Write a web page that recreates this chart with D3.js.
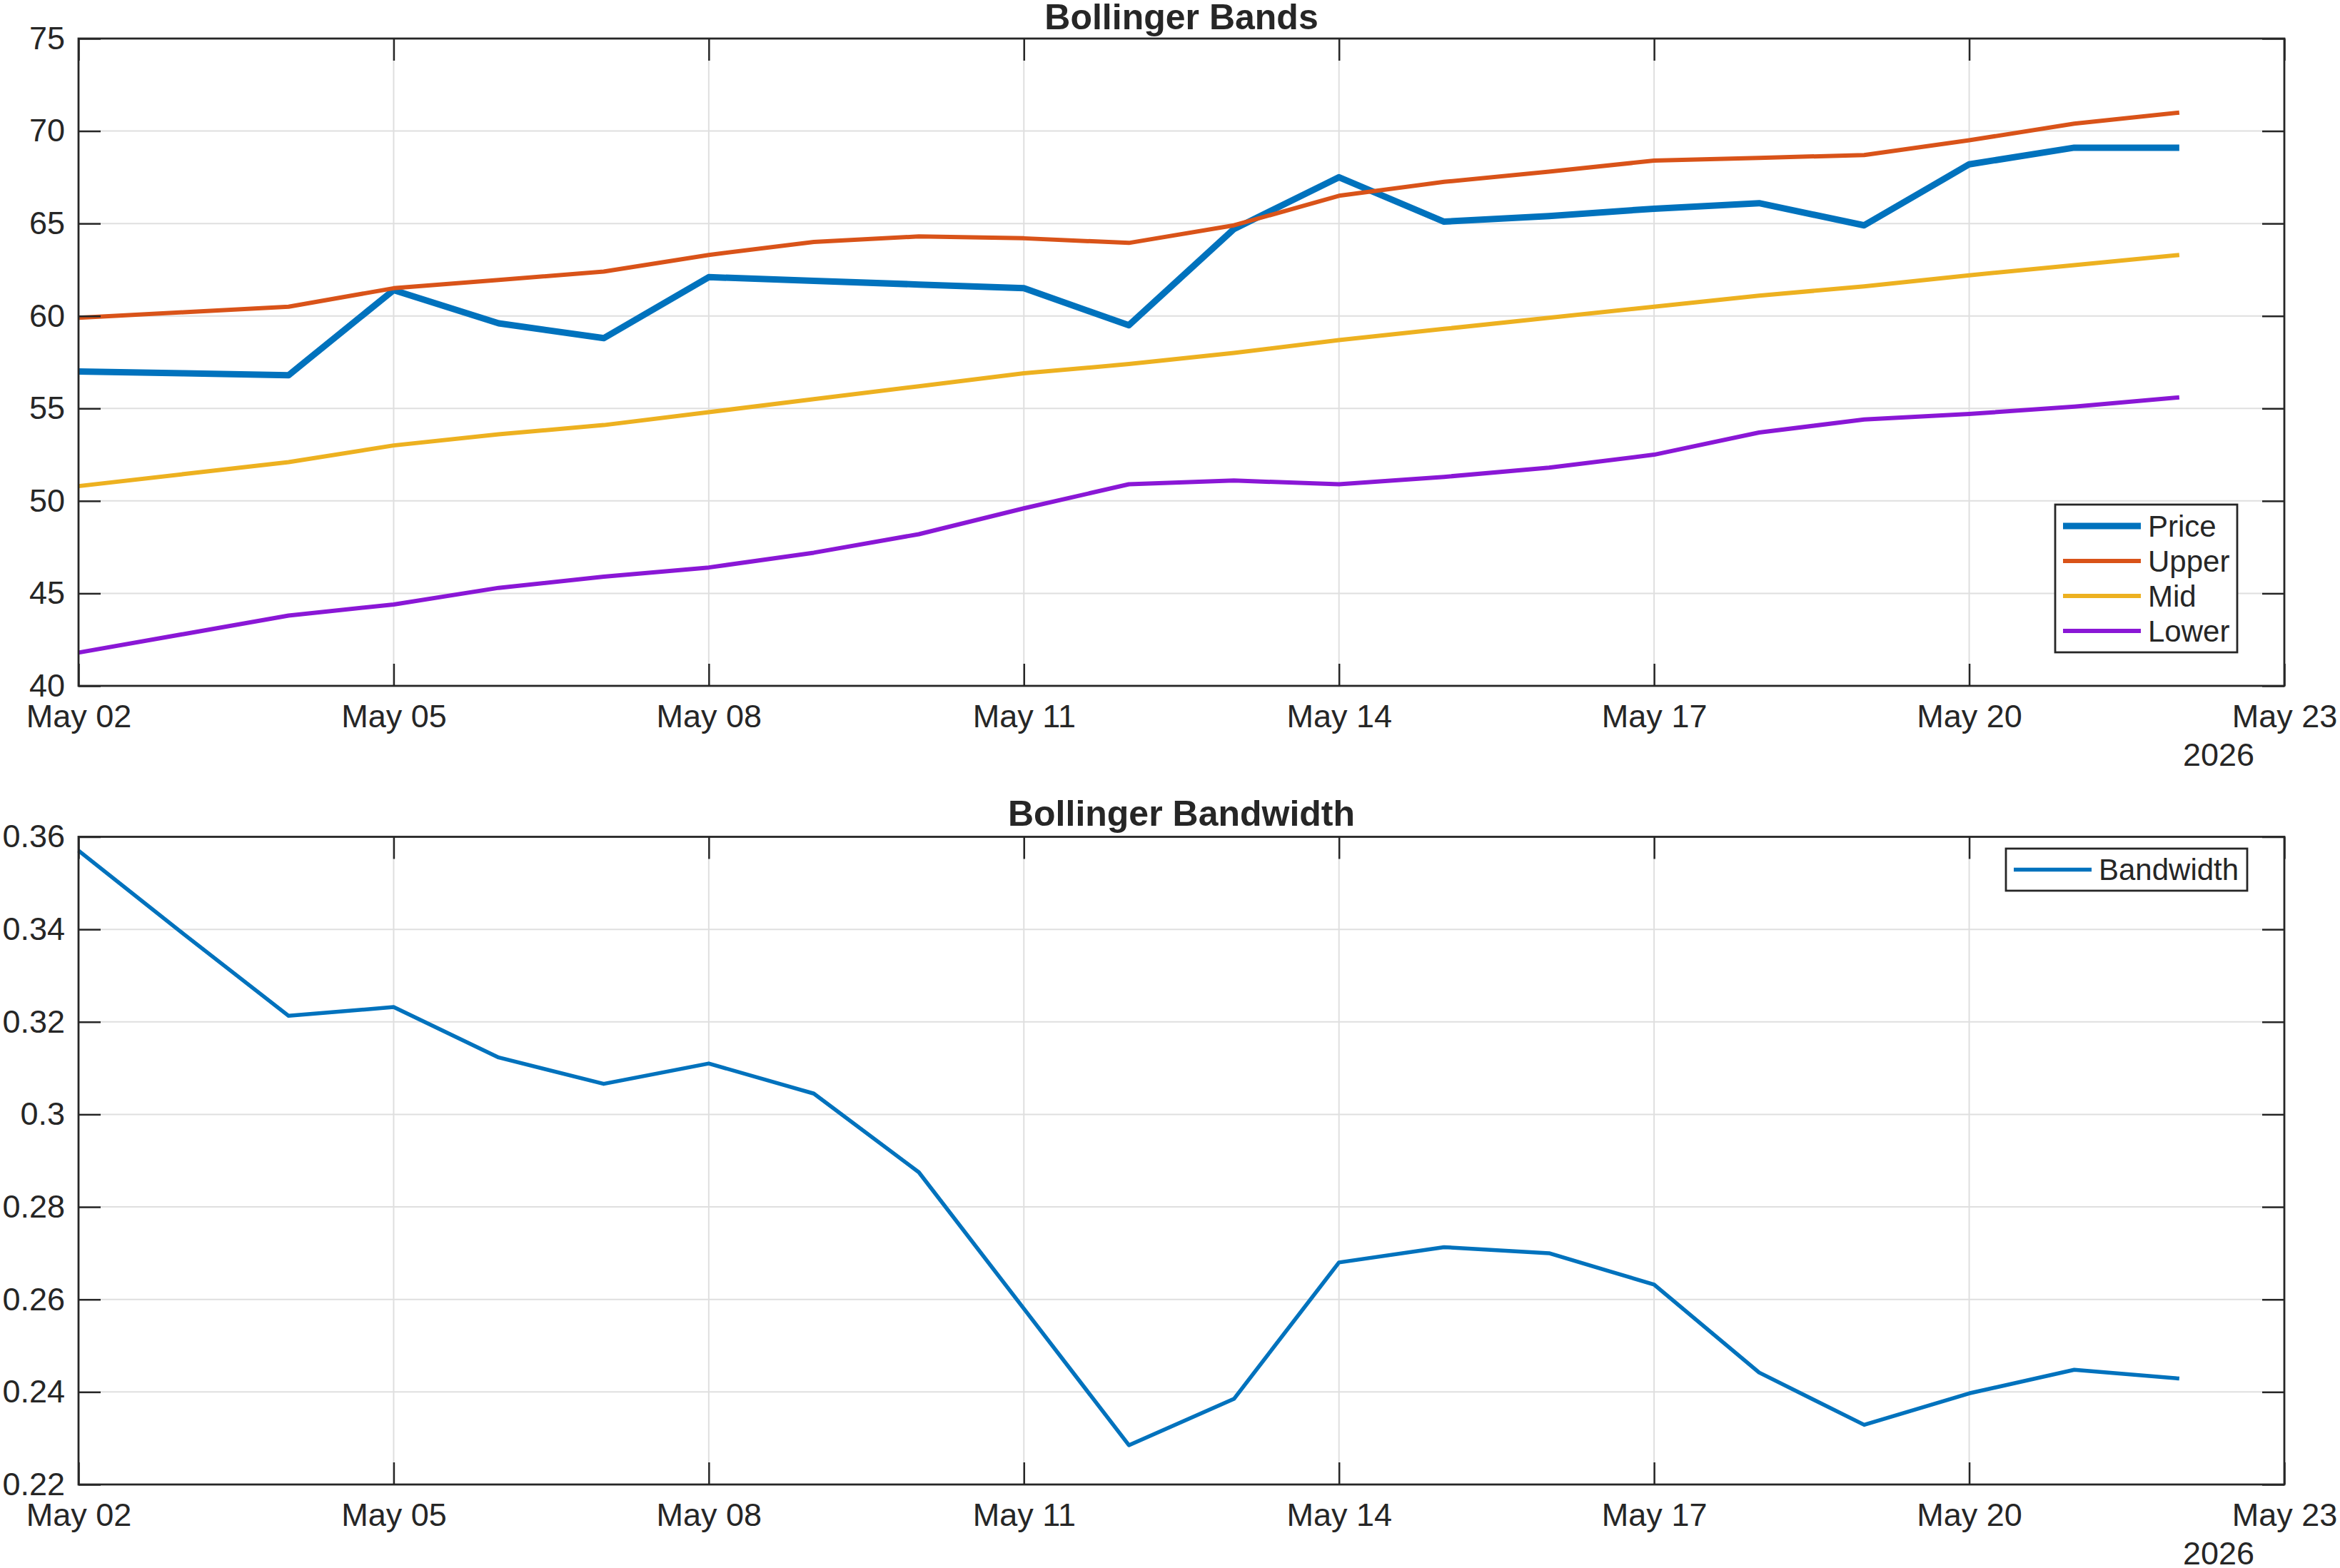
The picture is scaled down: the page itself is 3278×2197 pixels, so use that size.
<!DOCTYPE html>
<html>
<head>
<meta charset="utf-8">
<script src="https://cdn.jsdelivr.net/npm/d3@7"></script>
<style>
  body { margin: 0; background: #fff; }
  svg { display: block; font-family: "Liberation Sans", Arial, sans-serif; }
</style>
</head>
<body>
<svg id="chart" width="3278" height="2197"></svg>
<script>
// daily dates, May 02 - May 22 2026
var dates = ["2026-05-02","2026-05-03","2026-05-04","2026-05-05","2026-05-06","2026-05-07","2026-05-08",
             "2026-05-09","2026-05-10","2026-05-11","2026-05-12","2026-05-13","2026-05-14","2026-05-15",
             "2026-05-16","2026-05-17","2026-05-18","2026-05-19","2026-05-20","2026-05-21","2026-05-22"];

var price = [57.0, 56.9, 56.8, 61.4, 59.6, 58.8, 62.1, 61.9, 61.7, 61.5, 59.5,
             64.7, 67.5, 65.1, 65.4, 65.8, 66.1, 64.9, 68.2, 69.1, 69.1];
var upper = [59.9, 60.2, 60.5, 61.5, 61.95, 62.4, 63.3, 64.0, 64.3, 64.2, 63.95,
             64.9, 66.5, 67.25, 67.8, 68.4, 68.55, 68.7, 69.5, 70.4, 71.0];
var mid   = [50.8, 51.45, 52.1, 53.0, 53.6, 54.1, 54.8, 55.5, 56.2, 56.9, 57.4,
             58.0, 58.7, 59.3, 59.9, 60.5, 61.1, 61.6, 62.2, 62.75, 63.3];
var lower = [41.8, 42.8, 43.8, 44.4, 45.3, 45.9, 46.4, 47.2, 48.2, 49.6, 50.9,
             51.1, 50.9, 51.3, 51.8, 52.5, 53.7, 54.4, 54.7, 55.1, 55.6];
var bandwidth = [0.357, 0.339, 0.3213, 0.3232, 0.3123, 0.3066, 0.311, 0.3045, 0.2875, 0.258, 0.2285,
                 0.2385, 0.268, 0.2713, 0.270, 0.2632, 0.2442, 0.2329, 0.2397, 0.2448, 0.2429];

var xTickDates = ["2026-05-02","2026-05-05","2026-05-08","2026-05-11","2026-05-14","2026-05-17","2026-05-20","2026-05-23"];
var bandTicks = [40, 45, 50, 55, 60, 65, 70, 75];
var bwTicks = [0.22, 0.24, 0.26, 0.28, 0.30, 0.32, 0.34, 0.36];
var yearLabel = "2026";

var parse = d3.utcParse("%Y-%m-%d");
var svg = d3.select("#chart");
var axisColor = "#262626";

var left = 110, right = 3200;
var x = d3.scaleUtc()
  .domain([parse("2026-05-02"), parse("2026-05-23")])
  .range([0, right - left]);

function panel(opts) {
  var w = right - left, h = opts.bottom - opts.top;
  var g = svg.append("g").attr("transform", "translate(" + left + "," + opts.top + ")");
  var y = d3.scaleLinear().domain(opts.domain).range([h, 0]);

  // grid
  g.append("g").selectAll("line").data(opts.yTicks).enter().append("line")
    .attr("x1", 0).attr("x2", w)
    .attr("y1", function(d) { return y(d); }).attr("y2", function(d) { return y(d); })
    .attr("stroke", "#dfdfdf").attr("stroke-width", 2);
  g.append("g").selectAll("line").data(xTickDates.map(parse)).enter().append("line")
    .attr("y1", 0).attr("y2", h)
    .attr("x1", function(d) { return x(d); }).attr("x2", function(d) { return x(d); })
    .attr("stroke", "#dfdfdf").attr("stroke-width", 2);

  // series
  var line = d3.line()
    .x(function(d, i) { return x(parse(dates[i])); })
    .y(function(d) { return y(d); });
  opts.series.forEach(function(s) {
    g.append("path").datum(s.values)
      .attr("fill", "none").attr("stroke", s.color)
      .attr("stroke-width", s.width).attr("stroke-linejoin", "round")
      .attr("d", line);
  });

  // axes, ticks inward on all sides
  var fmt = opts.fmt;
  var ax = [
    g.append("g").call(d3.axisLeft(y).tickValues(opts.yTicks).tickSize(-31).tickPadding(19).tickFormat(fmt)),
    g.append("g").attr("transform", "translate(" + w + ",0)")
      .call(d3.axisRight(y).tickValues(opts.yTicks).tickSize(-31).tickFormat("")),
    g.append("g").attr("transform", "translate(0," + h + ")")
      .call(d3.axisBottom(x).tickValues(xTickDates.map(parse)).tickSize(-31).tickPadding(26)
        .tickFormat(d3.utcFormat("%b %d"))),
    g.append("g").call(d3.axisTop(x).tickValues(xTickDates.map(parse)).tickSize(-31).tickFormat(""))
  ];
  ax.forEach(function(a) {
    a.select(".domain").remove();
    a.selectAll("line").attr("stroke", axisColor).attr("stroke-width", 2.5);
    a.selectAll("text").attr("fill", axisColor).attr("font-size", 45)
      .attr("font-family", "Liberation Sans, Arial, sans-serif");
  });

  g.append("rect").attr("width", w).attr("height", h)
    .attr("fill", "none").attr("stroke", axisColor).attr("stroke-width", 2.8);

  g.append("text").attr("x", w - 42).attr("y", h + 112)
    .attr("text-anchor", "end").attr("font-size", 45).attr("fill", axisColor)
    .text(yearLabel);

  g.append("text").attr("x", w / 2).attr("y", opts.titleY - opts.top)
    .attr("text-anchor", "middle").attr("font-size", 50).attr("font-weight", "bold")
    .attr("fill", axisColor).text(opts.title);

  // legend
  var L = opts.legend;
  var lg = g.append("g").attr("transform", "translate(" + L.x + "," + L.y + ")");
  lg.append("rect").attr("width", L.w).attr("height", L.h)
    .attr("fill", "#fff").attr("stroke", axisColor).attr("stroke-width", 2.8);
  opts.series.forEach(function(s, i) {
    var cy = L.first + i * 49;
    lg.append("line").attr("x1", 11).attr("x2", 120).attr("y1", cy).attr("y2", cy)
      .attr("stroke", s.color).attr("stroke-width", s.width);
    lg.append("text").attr("x", 130).attr("y", cy).attr("dy", "0.35em")
      .attr("font-size", 42).attr("fill", axisColor).text(s.name);
  });
}

panel({
  top: 54, bottom: 961, titleY: 41,
  title: "Bollinger Bands",
  domain: [40, 75], yTicks: bandTicks,
  fmt: d3.format("d"),
  series: [
    {name: "Price", values: price, color: "#0072BD", width: 9},
    {name: "Upper", values: upper, color: "#D95319", width: 6},
    {name: "Mid",   values: mid,   color: "#EDB120", width: 6},
    {name: "Lower", values: lower, color: "#8A17D6", width: 6}
  ],
  legend: {x: 2769, y: 653, w: 255, h: 207, first: 30}
});

panel({
  top: 1172.5, bottom: 2080, titleY: 1157,
  title: "Bollinger Bandwidth",
  domain: [0.22, 0.36], yTicks: bwTicks,
  fmt: function(d) { return String(+d.toFixed(2)); },
  series: [
    {name: "Bandwidth", values: bandwidth, color: "#0072BD", width: 5.5}
  ],
  legend: {x: 2700, y: 16.5, w: 338, h: 59, first: 29.5}
});
</script>
</body>
</html>
